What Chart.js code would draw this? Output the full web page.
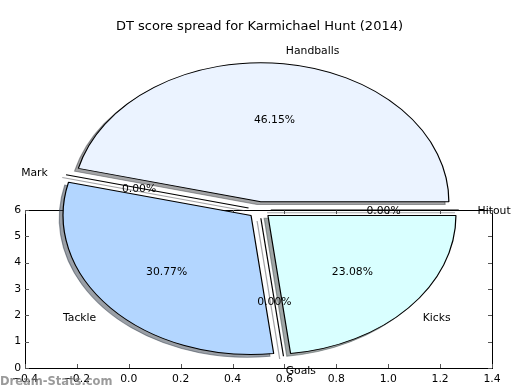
<!DOCTYPE html>
<html><head><meta charset="utf-8">
<script src="https://cdn.jsdelivr.net/npm/chart.js@4.4.1/dist/chart.umd.min.js"></script>
<style>
html,body{margin:0;padding:0;background:#fff;}
#wrap{position:relative;width:520px;height:390px;overflow:hidden;}
#wrap canvas{position:absolute;left:0;top:0;}
</style></head><body>
<div id="wrap"><canvas id="axes" width="520" height="390"></canvas><canvas id="pie" width="520" height="390"></canvas></div>
<script>
// ---- data (matplotlib order: counter-clockwise from 3 o'clock) ----
const categories = ['Handballs', 'Mark', 'Tackle', 'Goals', 'Kicks', 'Hitout'];
const shares = [46.15, 0, 30.77, 0, 23.08, 0];
const sliceColors = ['#ebf3ff', '#f0f0ff', '#b3d6ff', '#f0f0ff', '#d9ffff', '#f0f0ff'];
const xTicks = [-0.4, -0.2, 0.0, 0.2, 0.4, 0.6, 0.8, 1.0, 1.2, 1.4];
const yTicks = [0, 1, 2, 3, 4, 5, 6];
const titleText = 'DT score spread for Karmichael Hunt (2014)';
const watermarkText = 'Dream-Stats.com';

// ---- style ----
const FONT = '"DejaVu Sans", "Liberation Sans", sans-serif';
const R = 139;            // vertical radius in px
const SX = 188 / 139;     // horizontal stretch (ellipse)
const EXPLODE = 0.06;     // fraction of radius
const SH_X = 0.02 * 188, SH_Y = 0.02 * 139;
const LW = 0.9;
const TEXT_DY = 1.5;

// Chart.js draws clockwise, so feed slices reversed
const cjLabels = categories.slice().reverse();
const cjData = shares.slice().reverse();
const cjColors = sliceColors.slice().reverse();

function shadowOf(hex) {
  const n = parseInt(hex.slice(1), 16);
  const r = (n >> 16) & 255, g = (n >> 8) & 255, b = n & 255;
  return 'rgba(' + Math.round(r * 0.3) + ',' + Math.round(g * 0.3) + ',' + Math.round(b * 0.3) + ',0.5)';
}
function centerOf(chart) {
  const a = chart.chartArea;
  return { cx: (a.left + a.right) / 2, cy: (a.top + a.bottom) / 2 };
}
function midOf(el) { return (el.startAngle + el.endAngle) / 2; }

const fmtTick = v => {
  const s = Math.abs(v).toFixed(1);
  return (v < -1e-9 ? '\u2212' : '') + s;
};

// ---- axes chart (behind) ----
const axesPlugin = {
  id: 'mplFrame',
  afterDraw(chart) {
    const ctx = chart.ctx, a = chart.chartArea;
    const xs = chart.scales.x, ys = chart.scales.y;
    ctx.save();
    ctx.strokeStyle = '#000';
    ctx.lineWidth = 1;
    ctx.strokeRect(Math.round(a.left) + 0.5, Math.round(a.top) + 0.5,
      Math.round(a.right) - Math.round(a.left), Math.round(a.bottom) - Math.round(a.top));
    ctx.strokeStyle = '#555';
    ctx.beginPath();
    xTicks.forEach(v => {
      const px = Math.round(xs.getPixelForValue(v)) + 0.5;
      ctx.moveTo(px, a.bottom); ctx.lineTo(px, a.bottom - 4);
      ctx.moveTo(px, a.top); ctx.lineTo(px, a.top + 4);
    });
    yTicks.forEach(v => {
      const py = Math.round(ys.getPixelForValue(v)) + 0.5;
      ctx.moveTo(a.left, py); ctx.lineTo(a.left + 4, py);
      ctx.moveTo(a.right, py); ctx.lineTo(a.right - 4, py);
    });
    ctx.stroke();
    ctx.restore();
  }
};

new Chart(document.getElementById('axes'), {
  type: 'scatter',
  data: { datasets: [] },
  options: {
    responsive: false, animation: false, devicePixelRatio: 1, events: [],
    layout: { padding: { top: 210, right: 28, left: 0, bottom: 0 } },
    plugins: { legend: { display: false }, tooltip: { enabled: false }, title: { display: false } },
    scales: {
      x: {
        type: 'linear', min: xTicks[0], max: xTicks[xTicks.length - 1],
        afterBuildTicks: s => { s.ticks = xTicks.map(v => ({ value: v })); },
        afterFit: s => { s.height = 22; },
        grid: { display: false, drawTicks: false }, border: { display: false },
        ticks: { callback: v => fmtTick(v), color: '#000', padding: 5, maxRotation: 0, autoSkip: false,
          font: { family: FONT, size: 10.8 } }
      },
      y: {
        type: 'linear', min: yTicks[0], max: yTicks[yTicks.length - 1],
        afterBuildTicks: s => { s.ticks = yTicks.map(v => ({ value: v })); },
        afterFit: s => { s.width = 25; },
        grid: { display: false, drawTicks: false }, border: { display: false },
        ticks: { callback: v => String(v), color: '#000', padding: 4, autoSkip: false,
          font: { family: FONT, size: 10.8 } }
      }
    }
  },
  plugins: [axesPlugin]
});

// ---- pie chart (front) ----
const piePlugin = {
  id: 'ellipsePie',
  afterUpdate(chart) {
    const { cx, cy } = centerOf(chart);
    chart.getDatasetMeta(0).data.forEach(el => {
      const m = midOf(el);
      el.x = cx + Math.cos(m) * EXPLODE * el.outerRadius;
      el.y = cy + Math.sin(m) * EXPLODE * el.outerRadius;
    });
  },
  beforeDatasetsDraw(chart) {
    const ctx = chart.ctx;
    const { cx, cy } = centerOf(chart);
    ctx.save();
    ctx.translate(cx, cy); ctx.scale(SX, 1); ctx.translate(-cx, -cy);
    const meta = chart.getDatasetMeta(0);
    meta.data.forEach((el, i) => {
      const c = shadowOf(cjColors[i]);
      ctx.save();
      ctx.translate(-SH_X / SX, SH_Y);
      ctx.beginPath();
      ctx.moveTo(el.x, el.y);
      ctx.arc(el.x, el.y, el.outerRadius, el.startAngle, el.endAngle);
      ctx.closePath();
      ctx.fillStyle = c; ctx.strokeStyle = c; ctx.lineWidth = LW;
      if (el.circumference > 0) ctx.fill();
      ctx.stroke();
      ctx.restore();
    });
  },
  afterDatasetsDraw(chart) {
    const ctx = chart.ctx;
    const meta = chart.getDatasetMeta(0);
    // zero-sized wedges are drawn by matplotlib as a single radius line
    meta.data.forEach(el => {
      if (el.circumference > 0) return;
      ctx.beginPath();
      ctx.moveTo(el.x, el.y);
      ctx.lineTo(el.x + Math.cos(el.startAngle) * el.outerRadius, el.y + Math.sin(el.startAngle) * el.outerRadius);
      ctx.strokeStyle = '#000'; ctx.lineWidth = LW;
      ctx.stroke();
    });
    ctx.restore();
  },
  afterDraw(chart) {
    const ctx = chart.ctx;
    const { cx, cy } = centerOf(chart);
    const meta = chart.getDatasetMeta(0);
    const data = chart.data.datasets[0].data;
    const total = data.reduce((a, b) => a + b, 0);
    ctx.save();
    ctx.fillStyle = '#000';
    ctx.font = '10.8px ' + FONT;
    ctx.textBaseline = 'middle';
    meta.data.forEach((el, i) => {
      const m = midOf(el), c = Math.cos(m), s = Math.sin(m);
      const R0 = el.outerRadius;
      // category label
      const lx = cx + c * (1.1 + EXPLODE) * R0 * SX;
      const ly = cy + s * (1.1 + EXPLODE) * R0 + TEXT_DY;
      ctx.textAlign = c > 0 ? 'left' : 'right';
      ctx.fillText(chart.data.labels[i], lx, ly);
      // percentage
      const px = cx + c * (0.6 + EXPLODE) * R0 * SX;
      const py = cy + s * (0.6 + EXPLODE) * R0 + TEXT_DY;
      ctx.textAlign = 'center';
      ctx.fillText((data[i] / total * 100).toFixed(2) + '%', px, py);
    });
    // watermark
    ctx.font = 'bold 11.5px ' + FONT;
    ctx.fillStyle = 'rgba(120,120,120,0.75)';
    ctx.textAlign = 'left';
    ctx.textBaseline = 'alphabetic';
    ctx.fillText(watermarkText, 0, 385);
    ctx.restore();
  }
};

new Chart(document.getElementById('pie'), {
  type: 'pie',
  data: {
    labels: cjLabels,
    datasets: [{
      data: cjData,
      backgroundColor: cjColors,
      borderColor: '#000',
      borderWidth: LW,
      hoverOffset: 0,
      offset: 0
    }]
  },
  options: {
    responsive: false, animation: false, devicePixelRatio: 1, events: [],
    radius: R,
    rotation: 90,
    layout: { padding: { top: 0, bottom: 12.6, left: 0, right: 1 } },
    plugins: {
      legend: { display: false },
      tooltip: { enabled: false },
      title: {
        display: true, text: titleText, color: '#000',
        font: { family: FONT, size: 13, weight: 'normal', lineHeight: 1.2 },
        padding: { top: 19, bottom: 8 }
      }
    }
  },
  plugins: [piePlugin]
});
</script>
</body></html>
